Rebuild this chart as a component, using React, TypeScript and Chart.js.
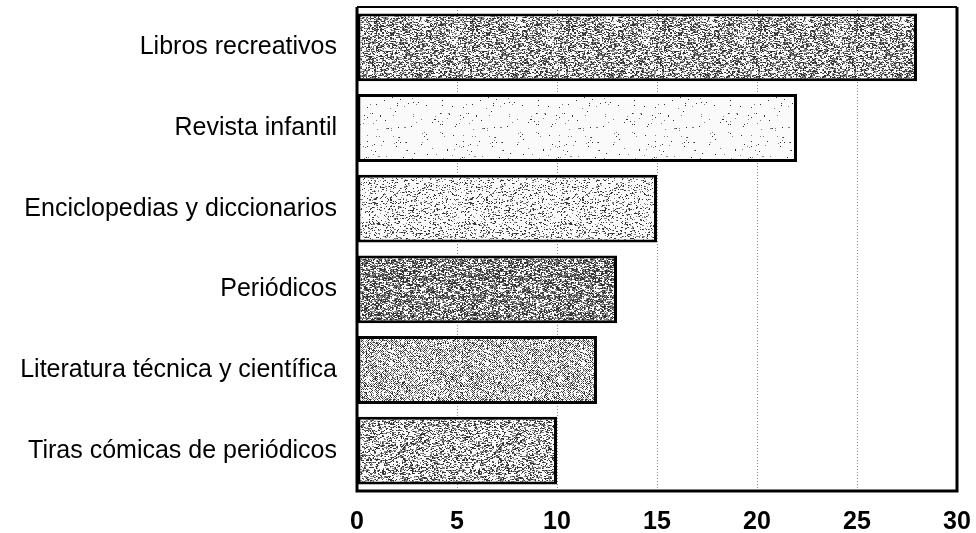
import React, { useEffect, useRef } from "react";
import { Chart, registerables } from "chart.js";

Chart.register(...registerables);

const categories = [
  "Libros recreativos",
  "Revista infantil",
  "Enciclopedias y diccionarios",
  "Periódicos",
  "Literatura técnica y científica",
  "Tiras cómicas de periódicos",
];
const values = [28, 22, 15, 13, 12, 10];
const xTicks = [0, 5, 10, 15, 20, 25, 30];
// dither density per bar (share of dark pixels)
const densities = [0.5, 0.1, 0.3, 0.58, 0.42, 0.45];

function hash(x: number, y: number, s: number) {
  let h = (x * 374761393 + y * 668265263 + s * 2147483647) | 0;
  h = (h ^ (h >>> 13)) * 1274126177;
  h = h ^ (h >>> 16);
  return ((h >>> 0) % 10000) / 10000;
}

function makePattern(density: number, seed: number, checker: boolean) {
  const c = document.createElement("canvas");
  c.width = 96;
  c.height = 96;
  const ctx = c.getContext("2d")!;
  ctx.fillStyle = "#ffffff";
  ctx.fillRect(0, 0, 96, 96);
  const img = ctx.getImageData(0, 0, 96, 96);
  for (let y = 0; y < 96; y++) {
    for (let x = 0; x < 96; x++) {
      let dark: boolean;
      if (checker) {
        dark = (x + y) % 2 === 0 ? hash(x, y, seed) < density * 1.6 : hash(x, y, seed) < density * 0.3;
      } else {
        const hv = hash(Math.floor(x / 2), y, seed) * 0.6 + hash(x, y, seed + 7) * 0.4;
        dark = hv < density;
      }
      const i = (y * 96 + x) * 4;
      const v = dark ? (hash(x, y, seed + 3) < 0.5 ? 50 : 130) : 250;
      img.data[i] = v;
      img.data[i + 1] = v;
      img.data[i + 2] = v;
      img.data[i + 3] = 255;
    }
  }
  ctx.putImageData(img, 0, 0);
  return ctx.createPattern(c, "repeat")!;
}

const framePlugin = {
  id: "frame",
  afterDatasetsDraw(chart: any) {
    const { ctx, chartArea } = chart;
    ctx.save();
    ctx.strokeStyle = "#000";
    ctx.lineWidth = 3;
    ctx.beginPath();
    ctx.moveTo(chartArea.left, chartArea.top);
    ctx.lineTo(chartArea.left, chartArea.bottom);
    ctx.lineTo(chartArea.right, chartArea.bottom);
    ctx.lineTo(chartArea.right, chartArea.top);
    ctx.stroke();
    ctx.lineWidth = 2;
    ctx.beginPath();
    ctx.moveTo(chartArea.left, chartArea.top);
    ctx.lineTo(chartArea.right, chartArea.top);
    ctx.stroke();
    ctx.restore();
  },
};

export default function App() {
  const ref = useRef<HTMLCanvasElement>(null);
  useEffect(() => {
    document.body.style.margin = "0";
    const patterns = densities.map((d, i) => makePattern(d, i + 1, i === 4));
    const chart = new Chart(ref.current!, {
      type: "bar",
      data: {
        labels: categories,
        datasets: [
          {
            data: values,
            backgroundColor: patterns as any,
            borderColor: "#000",
            borderWidth: 3,
            borderSkipped: false,
            barPercentage: 0.84,
            categoryPercentage: 1,
          },
        ],
      },
      plugins: [framePlugin],
      options: {
        indexAxis: "y",
        animation: false,
        responsive: false,
        maintainAspectRatio: false,
        layout: { padding: { left: 0, right: 19, top: 7, bottom: 0 } },
        plugins: { legend: { display: false }, tooltip: { enabled: false } },
        scales: {
          x: {
            min: 0,
            max: 30,
            afterBuildTicks: (scale: any) => {
              scale.ticks = xTicks.map((v) => ({ value: v }));
            },
            afterFit: (scale: any) => {
              scale.height = 42;
              scale.paddingLeft = 0;
              scale.paddingRight = 0;
            },
            grid: {
              color: (c: any) =>
                c.tick && (c.tick.value === 0 || c.tick.value === 30) ? "rgba(0,0,0,0)" : "#888",
              lineWidth: 1,
              drawTicks: false,
            },
            border: { display: false, dash: [1, 2] },
            ticks: {
              color: "#000",
              padding: 16,
              font: { family: "Liberation Sans, Arial, sans-serif", size: 25, weight: "bold" },
            },
          },
          y: {
            afterFit: (scale: any) => {
              scale.width = 357;
              scale.paddingTop = 0;
              scale.paddingBottom = 0;
            },
            grid: { display: false },
            border: { display: false },
            ticks: {
              color: "#000",
              padding: 12,
              font: { family: "Liberation Sans, Arial, sans-serif", size: 25 },
            },
          },
        },
      },
    });
    return () => chart.destroy();
  }, []);
  return (
    <div style={{ width: 976, height: 533 }}>
      <canvas ref={ref} width={976} height={533} style={{ width: 976, height: 533, display: "block" }} />
    </div>
  );
}
